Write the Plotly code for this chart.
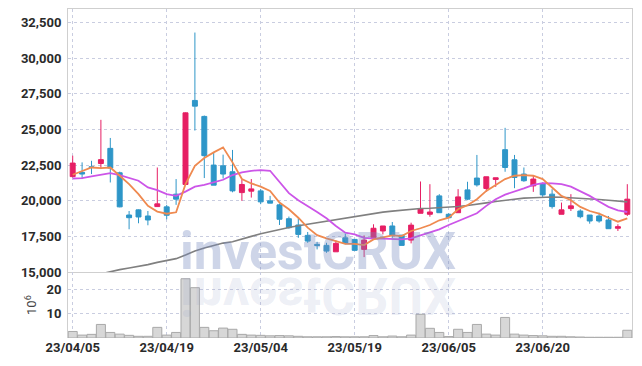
import plotly.graph_objects as go
from plotly.subplots import make_subplots

dates = (["2023-04-%02d" % d for d in [5, 6, 7, 10, 11, 12, 13, 14, 17, 18, 19, 20, 21, 24, 25, 26, 27, 28]]
         + ["2023-05-%02d" % d for d in [2, 3, 4, 8, 9, 10, 11, 12, 15, 16, 17, 18, 19, 22, 23, 24, 25, 26, 30, 31]]
         + ["2023-06-%02d" % d for d in [1, 2, 5, 7, 8, 9, 12, 13, 14, 15, 16, 19, 20, 21, 22, 23, 26, 27, 28, 29, 30]]
         + ["2023-07-03"])

open_ = [21700, 22000, 22390, 22620, 23680, 21970, 19010, 19370, 18940, 19600,
         19580, 20470, 21150, 27040, 25920, 22510, 22460, 22040, 20580, 20680,
         20700, 20000, 19720, 18750, 18310, 17580, 16950, 16880, 16430, 17410,
         17300, 16600, 17410, 17890, 18240, 17600, 17250, 19130, 19060, 20350,
         19060, 19170, 20770, 21600, 20870, 21500, 23590, 22880, 21880, 21050,
         21220, 20470, 19060, 19460, 19290, 19010, 18940, 18660, 18080, 19060]
high = [23170, 22700, 22810, 25680, 24410, 22050, 19290, 19400, 19290, 22340,
        19720, 21530, 26200, 31800, 25980, 23400, 23240, 23570, 21500, 21530,
        20820, 20350, 19810, 18900, 18780, 17820, 17130, 17060, 17230, 17700,
        17320, 17580, 18360, 18240, 18520, 17600, 18470, 21360, 21170, 20470,
        19130, 20820, 21340, 23220, 21690, 21620, 25120, 23220, 22340, 21810,
        21290, 20820, 19880, 20470, 19410, 19010, 19170, 18940, 18360, 21170]
low = [21640, 21530, 21880, 22230, 21290, 19550, 18010, 18430, 18290, 19580,
       18710, 19720, 21100, 24930, 21600, 21100, 21570, 20600, 20000, 20230,
       19770, 19840, 18310, 18050, 17410, 17060, 16600, 16360, 16430, 16950,
       16530, 16060, 17410, 17650, 17410, 16880, 17020, 19130, 18890, 19170,
       18780, 19170, 20050, 21000, 20630, 20980, 22040, 20890, 21340, 20630,
       20280, 19460, 19060, 19290, 18780, 18400, 18470, 18050, 17890, 18940]
close = [22650, 21880, 22340, 22890, 22300, 19580, 18820, 18870, 18660, 19790,
         18990, 20120, 26170, 26640, 23170, 21100, 21880, 20700, 21150, 20840,
         19930, 19840, 18710, 18120, 17650, 17180, 16880, 16480, 17020, 17020,
         16530, 17250, 18080, 18240, 17600, 16880, 18300, 19460, 19220, 19170,
         18820, 20280, 20120, 21120, 21690, 21620, 22340, 21640, 21410, 21530,
         20420, 19600, 19370, 19650, 18890, 18590, 18590, 18050, 18190, 20120]

# volume in millions of shares
volume = [2.7, 1.2, 1.5, 5.6, 2.3, 1.6, 1.1, 0.7, 0.7, 4.4,
          1.2, 2.3, 24.5, 20.8, 4.4, 3.0, 4.1, 3.6, 1.5, 1.2,
          1.1, 0.9, 1.0, 0.9, 0.7, 0.5, 0.5, 0.5, 0.6, 0.5,
          0.5, 0.5, 1.0, 0.5, 0.8, 0.5, 1.2, 9.8, 4.0, 2.3,
          0.6, 3.6, 2.3, 5.6, 1.6, 1.2, 8.5, 1.6, 1.2, 1.0,
          0.9, 0.7, 0.7, 0.5, 0.4, 0.3, 0.3, 0.3, 0.3, 3.2]

ma_short = [21830, 22110, 22340, 22300, 22340, 21760, 21170, 20470, 19650, 19250,
            19100, 19200, 21170, 22460, 23000, 23400, 23750, 22700, 21530, 21220,
            21000, 20700, 19880, 19410, 18820, 18120, 17600, 17370, 17180, 16990,
            16990, 16900, 17300, 17460, 17580, 17530, 17890, 18080, 18310, 18640,
            18820, 19410, 19700, 20120, 20700, 21120, 21530, 21760, 21810, 21760,
            21530, 20940, 20350, 20050, 19580, 19290, 19100, 18820, 18540, 18780]
ma_mid = [21570, 21600, 21710, 21830, 21950, 21810, 21600, 21410, 20940, 20750,
          20470, 20350, 20650, 21000, 21120, 21290, 21480, 21810, 21990, 22110,
          22160, 22110, 21350, 20540, 20050, 19650, 19220, 18780, 18240, 17770,
          17650, 17410, 17350, 17350, 17300, 17300, 17370, 17580, 17770, 18000,
          18310, 18590, 18820, 19130, 19650, 20120, 20440, 20630, 20870, 21120,
          21250, 21220, 21170, 21000, 20700, 20350, 19950, 19580, 19340, 19220]
ma_long = [None, None, None, 14880, 15050, 15180, 15300, 15410, 15530, 15690,
           15810, 15950, 16200, 16480, 16690, 16870, 17040, 17130, 17340, 17510,
           17690, 17850, 17990, 18130, 18260, 18370, 18460, 18560, 18670, 18790,
           18910, 19030, 19120, 19210, 19280, 19350, 19410, 19470, 19480, 19510,
           19550, 19610, 19680, 19750, 19860, 19960, 20050, 20140, 20190, 20220,
           20260, 20270, 20250, 20220, 20180, 20140, 20100, 20040, 19980, 19930]

tick_dates = ["2023-04-05", "2023-04-19", "2023-05-04", "2023-05-19", "2023-06-05", "2023-06-20"]
tick_text = ["23/04/05", "23/04/19", "23/05/04", "23/05/19", "23/06/05", "23/06/20"]
price_ticks = [15000, 17500, 20000, 22500, 25000, 27500, 30000, 32500]
vol_ticks = [10, 20]

RED = "#e61f64"
BLUE = "#2e96c8"

fig = make_subplots(rows=2, cols=1, shared_xaxes=True, vertical_spacing=0,
                    row_heights=[0.8, 0.2])

fig.add_trace(go.Scatter(x=dates, y=ma_long, mode="lines",
                         line=dict(color="#808080", width=1.6), hoverinfo="skip"), row=1, col=1)
fig.add_trace(go.Candlestick(x=dates, open=open_, high=high, low=low, close=close,
                             increasing=dict(line=dict(color=RED, width=1), fillcolor=RED),
                             decreasing=dict(line=dict(color=BLUE, width=1), fillcolor=BLUE),
                             whiskerwidth=0), row=1, col=1)
fig.add_trace(go.Scatter(x=dates, y=ma_mid, mode="lines",
                         line=dict(color="#cc55e8", width=1.8), hoverinfo="skip"), row=1, col=1)
fig.add_trace(go.Scatter(x=dates, y=ma_short, mode="lines",
                         line=dict(color="#ef8a50", width=1.8), hoverinfo="skip"), row=1, col=1)
fig.add_trace(go.Bar(x=dates, y=volume, marker=dict(color="#d7d7d7",
                                                     line=dict(color="#a9a9a9", width=1))),
              row=2, col=1)

tickfont = dict(family="Roboto", size=13, color="#2a2a2a", weight="bold")
grid = dict(showgrid=True, gridcolor="#c9cde0", griddash="dot", gridwidth=1)

fig.update_layout(
    width=642, height=366,
    margin=dict(l=68, r=10, t=9, b=28),
    paper_bgcolor="white", plot_bgcolor="white",
    showlegend=False, bargap=0.04, boxgap=0.25,
    font=dict(family="Roboto", size=13, color="#333333"),
)
fig.update_xaxes(type="category", range=[-0.5, len(dates) - 0.5],
                 tickmode="array", tickvals=tick_dates, ticktext=tick_text,
                 tickfont=tickfont, showline=True, linecolor="#cfcfcf", linewidth=1,
                 zeroline=False, rangeslider_visible=False, ticks="", **grid)
fig.update_xaxes(mirror=True, showticklabels=False, row=1, col=1)
fig.update_xaxes(showline=False, row=2, col=1)
fig.update_yaxes(range=[15000, 33450], tickvals=price_ticks, tickformat=",d",
                 tickfont=tickfont, showline=True, mirror=True, linecolor="#cfcfcf",
                 zeroline=False, ticks="outside", ticklen=3, tickcolor="rgba(0,0,0,0)",
                 row=1, col=1, **grid)
fig.update_yaxes(range=[0, 27.2], tickvals=vol_ticks, tickfont=tickfont,
                 showline=True, mirror=True, linecolor="#cfcfcf", zeroline=False,
                 ticks="outside", ticklen=3, tickcolor="rgba(0,0,0,0)",
                 title=dict(text="10<sup>6</sup>", standoff=6,
                            font=dict(family="Roboto", size=13, color="#444444")),
                 row=2, col=1, **grid)

fig.add_annotation(text="investCRUX", xref="paper", yref="paper", x=0.443, y=0.262,
                   xanchor="center", yanchor="middle", showarrow=False,
                   font=dict(family="Roboto", size=52, color="rgba(120,138,190,0.36)", weight="bold"))
fig.add_annotation(text="investCRUX", xref="paper", yref="paper", x=0.443, y=0.128,
                   xanchor="center", yanchor="middle", showarrow=False,
                   font=dict(family="Roboto", size=52, color="rgba(150,160,200,0.18)", weight="bold"))

post = """
document.body.style.margin = '0';
var gd = document.getElementById('{plot_id}');
function flipWm(){
  var t = gd.querySelector('g.annotation[data-index="1"] text.annotation-text');
  if(!t) return;
  t.removeAttribute('transform');
  var b = t.getBBox();
  var cy = b.y + b.height/2;
  t.setAttribute('transform','translate(0,'+(2*cy)+') scale(1,-1)');
}
flipWm();
gd.on('plotly_afterplot', flipWm);
"""
fig.write_html("out.html", post_script=post, config={"displayModeBar": False})
